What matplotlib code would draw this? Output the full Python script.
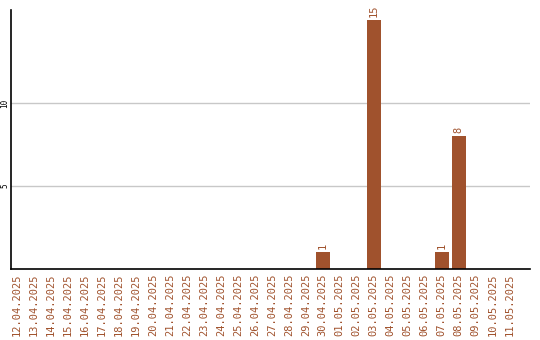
import matplotlib
matplotlib.use("Agg")
import matplotlib.pyplot as plt

dates = ["12.04.2025", "13.04.2025", "14.04.2025", "15.04.2025", "16.04.2025",
         "17.04.2025", "18.04.2025", "19.04.2025", "20.04.2025", "21.04.2025",
         "22.04.2025", "23.04.2025", "24.04.2025", "25.04.2025", "26.04.2025",
         "27.04.2025", "28.04.2025", "29.04.2025", "30.04.2025", "01.05.2025",
         "02.05.2025", "03.05.2025", "04.05.2025", "05.05.2025", "06.05.2025",
         "07.05.2025", "08.05.2025", "09.05.2025", "10.05.2025", "11.05.2025"]
counts = [0, 0, 0, 0, 0, 0, 0, 0, 0, 0,
          0, 0, 0, 0, 0, 0, 0, 0, 1, 0,
          0, 15, 0, 0, 0, 1, 8, 0, 0, 0]
yticks = [5, 10]

col = "#A0522D"
plt.rcParams["font.family"] = "DejaVu Sans Mono"

fig = plt.figure(figsize=(5.4, 3.4), dpi=100)
ax = fig.add_axes([11 / 540, 71 / 340, 519 / 540, 259 / 340])

x = list(range(len(dates)))
ax.bar(x, counts, width=0.82, color=col, zorder=3)
for xi, v in zip(x, counts):
    if v > 0:
        ax.text(xi, v + 0.2, str(v), rotation=90, ha="center", va="bottom",
                color=col, fontsize=7.5)

ax.set_xlim(-0.35, 30.2)
ax.set_ylim(0, 15.6)
ax.set_xticks(x)
ax.set_xticklabels(dates, rotation=90, color=col, fontsize=7.5)
ax.set_yticks(yticks)
ax.set_yticklabels([str(t) for t in yticks], rotation=90, fontsize=5.5, va="center")
ax.tick_params(axis="x", length=0, pad=3)
ax.tick_params(axis="y", length=0, pad=1)
ax.grid(axis="y", color="#c8c8c8", linewidth=1, zorder=0)
for s in ["top", "right"]:
    ax.spines[s].set_visible(False)
for s in ["left", "bottom"]:
    ax.spines[s].set_color("black")
    ax.spines[s].set_linewidth(1.2)
    ax.spines[s].set_zorder(4)

fig.savefig("out.png", dpi=100)
